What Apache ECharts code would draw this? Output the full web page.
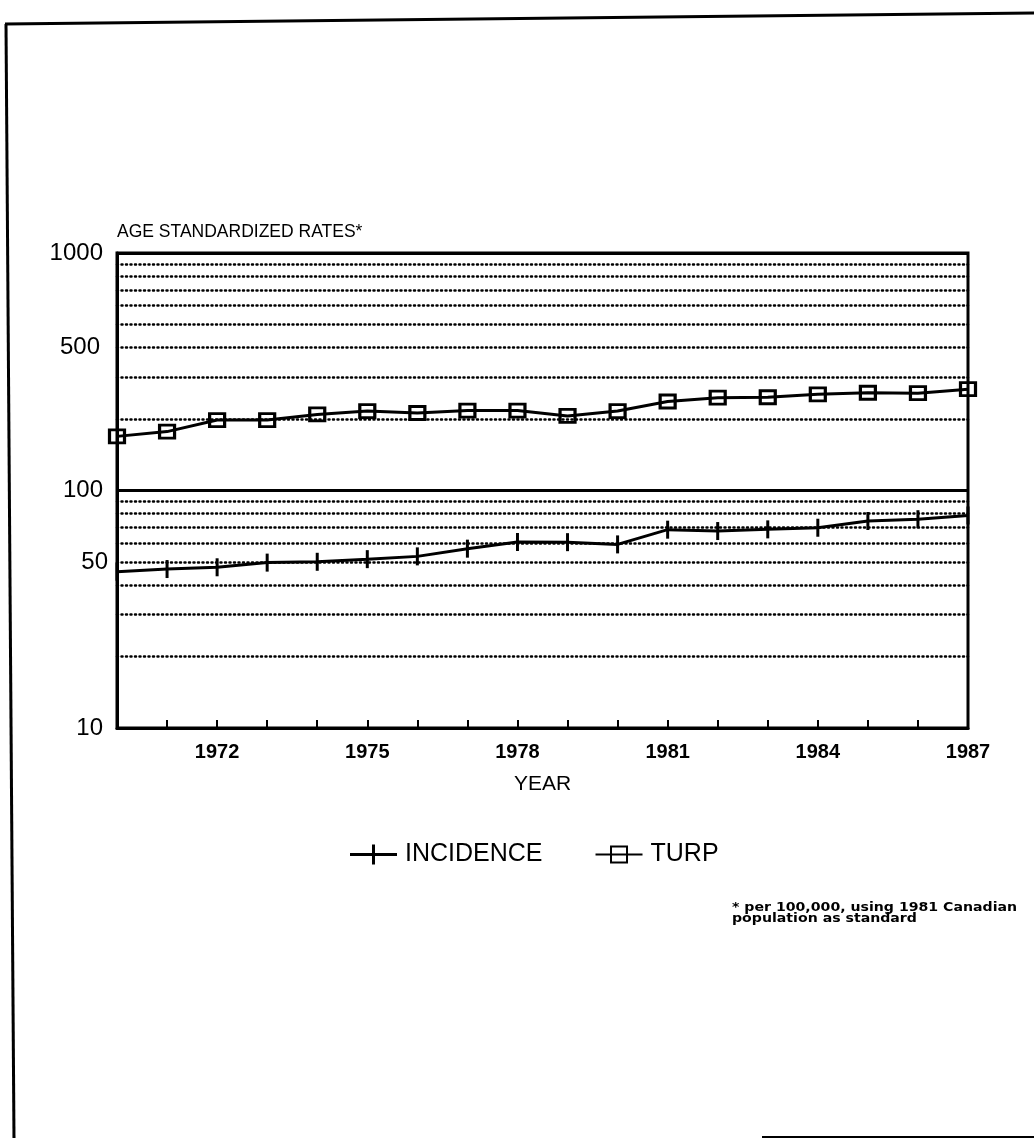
<!DOCTYPE html>
<html>
<head>
<meta charset="utf-8">
<script src="https://cdn.jsdelivr.net/npm/echarts@6/dist/echarts.min.js"></script>
<style>
html,body{margin:0;padding:0;background:#fff;}
#chart{width:1034px;height:1138px;}
</style>
</head>
<body>
<div id="chart"></div>
<script>
// ---- data ----
const years = ['1970','1971','1972','1973','1974','1975','1976','1977','1978','1979','1980','1981','1982','1983','1984','1985','1986','1987'];
const incidence = [45.5, 46.7, 47.5, 49.7, 50.1, 51.4, 52.8, 56.9, 60.7, 60.6, 59.3, 68.4, 67.5, 68.6, 69.7, 74.4, 75.7, 78.5];
const turp = [169, 177, 198, 198, 209, 216, 212, 217, 217, 206, 216, 237, 246, 247, 254, 258, 257, 267];
const gridValues = [20, 30, 40, 50, 60, 70, 80, 90, 200, 300, 400, 500, 600, 700, 800, 900];
const extraLabels = [{ at: 400, text: '500' }, { at: 50, text: '50' }];
const labeledYears = ['1972', '1975', '1978', '1981', '1984', '1987'];
const yTitle = 'AGE STANDARDIZED RATES*';
const xTitle = 'YEAR';
const footnote = '* per 100,000, using 1981 Canadian\npopulation as standard';

const FONT = 'Liberation Sans, Arial, Helvetica, sans-serif';
const chart = echarts.init(document.getElementById('chart'), null, { renderer: 'canvas' });

const markData = gridValues.map(v => {
  const lab = extraLabels.find(e => e.at === v);
  const d = { yAxis: v };
  if (lab) {
    d.label = {
      show: true, position: 'start', formatter: lab.text,
      color: '#000', fontFamily: FONT, fontSize: 24,
      distance: v === 50 ? 9 : 17
    };
  }
  return d;
});

chart.setOption({
  backgroundColor: '#fff',
  animation: false,
  grid: { left: 117, right: 66, top: 253, bottom: 410, show: true, borderColor: '#000', borderWidth: 3, backgroundColor: 'transparent' },
  xAxis: {
    type: 'category', data: years, boundaryGap: false,
    axisLine: { lineStyle: { color: '#000', width: 3 } },
    axisTick: { show: true, inside: true, length: 8, interval: 0, lineStyle: { color: '#000', width: 2 } },
    axisLabel: {
      interval: (i, v) => labeledYears.indexOf(v) >= 0,
      color: '#000', fontFamily: FONT, fontSize: 20, fontWeight: 'bold', margin: 14
    },
    name: xTitle, nameLocation: 'middle', nameGap: 46,
    nameTextStyle: { color: '#000', fontFamily: FONT, fontSize: 21 },
    splitLine: { show: false }
  },
  yAxis: {
    type: 'log', logBase: 10, min: 10, max: 1000,
    axisLine: { show: true, lineStyle: { color: '#000', width: 3 } },
    axisTick: { show: false },
    axisLabel: { color: '#000', fontFamily: FONT, fontSize: 24, margin: 14, formatter: v => String(v) },
    splitLine: { show: true, lineStyle: { color: '#000', width: 3, type: 'solid' } },
    minorSplitLine: { show: false },
    name: yTitle, nameLocation: 'end', nameGap: 12,
    nameTextStyle: { color: '#000', fontFamily: FONT, fontSize: 17.5, align: 'left', verticalAlign: 'bottom' }
  },
  legend: {
    left: 345, top: 837, itemGap: 52, itemWidth: 47, itemHeight: 20,
    textStyle: { color: '#000', fontFamily: FONT, fontSize: 25, padding: [0, 0, 0, 3] },
    data: [
      { name: 'INCIDENCE', icon: 'path://M0,8.5 L47,8.5 L47,11.5 L0,11.5 Z M22,0 L25,0 L25,20 L22,20 Z' },
      { name: 'TURP' }
    ]
  },
  series: [
    {
      name: 'INCIDENCE', type: 'line', data: incidence,
      symbol: 'rect', symbolSize: [3, 18],
      itemStyle: { color: '#000' },
      lineStyle: { color: '#000', width: 3 },
      z: 5,
      markLine: {
        silent: true, symbol: 'none',
        lineStyle: { color: '#000', width: 2.5, type: [1, 3.5], cap: 'round' },
        label: { show: false },
        data: markData
      }
    },
    {
      name: 'TURP', type: 'line', data: turp,
      symbol: 'rect', symbolSize: [15, 13],
      itemStyle: { color: 'rgba(255,255,255,0)', borderColor: '#000', borderWidth: 3 },
      lineStyle: { color: '#000', width: 3 },
      z: 5
    }
  ],
  graphic: [
    { type: 'polyline', shape: { points: [[5, 24], [1034, 13]] }, style: { stroke: '#000', lineWidth: 3, fill: null } },
    { type: 'polyline', shape: { points: [[6, 24], [14, 1138]] }, style: { stroke: '#000', lineWidth: 3, fill: null } },
    { type: 'polyline', shape: { points: [[762, 1137], [1034, 1137]] }, style: { stroke: '#000', lineWidth: 2, fill: null } },
    { type: 'text', x: 732, y: 902, scaleX: 1.13, style: { text: footnote, fill: '#000', font: 'bold 12.5px "DejaVu Sans", sans-serif', lineHeight: 11 } }
  ]
});
</script>
</body>
</html>
